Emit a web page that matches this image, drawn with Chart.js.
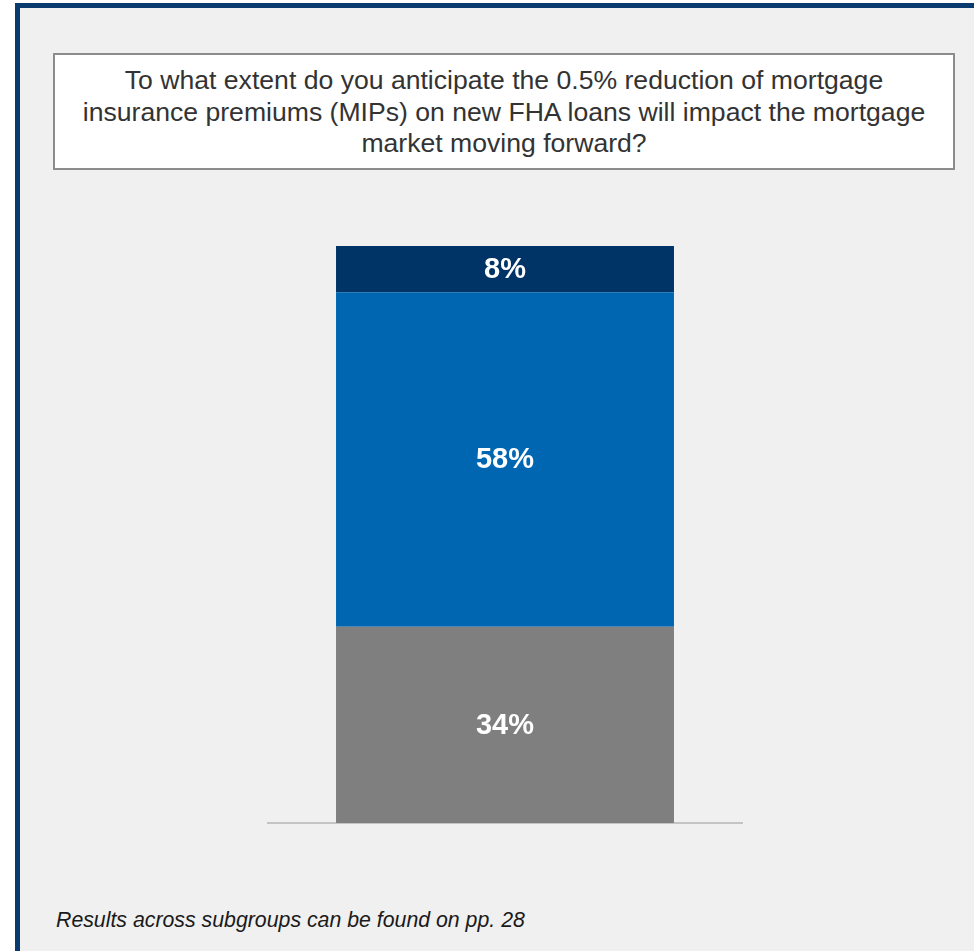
<!DOCTYPE html>
<html>
<head>
<meta charset="utf-8">
<script src="https://cdn.jsdelivr.net/npm/chart.js@4"></script>
<style>
    html, body {
        margin: 0;
        padding: 0;
        width: 974px;
        height: 951px;
        overflow: hidden;
        background: #ffffff;
        font-family: 'Liberation Sans', Arial, sans-serif;
    }

    .frame {
        position: absolute;
        left: 15px;
        top: 3px;
        width: 1000px;
        height: 1000px;
        border-left: 5px solid #093b6f;
        border-top: 5px solid #093b6f;
        background: #f0f0f0;
    }

    .question {
        position: absolute;
        left: 53px;
        top: 53px;
        width: 898px;
        border: 2px solid #8c8c8c;
        background: #ffffff;
        color: #333333;
        font-size: 26.6px;
        line-height: 31.5px;
        text-align: center;
        padding-top: 10px;
        height: 103px;
    }

    .chart-box {
        position: absolute;
        left: 267px;
        top: 246px;
        width: 476px;
        height: 580px;
    }

    .footnote {
        position: absolute;
        left: 56px;
        top: 908px;
        font-size: 21.3px;
        font-style: italic;
        color: #1a1a1a;
        white-space: nowrap;
    }
</style>
</head>
<body>
<div class="frame"></div>
<div class="question">To what extent do you anticipate the 0.5% reduction of mortgage<br>insurance premiums (MIPs) on new FHA loans will impact the mortgage<br>market moving forward?</div>
<div class="chart-box"><canvas id="mipChart"></canvas></div>
<div class="footnote">Results across subgroups can be found on pp. 28</div>

<script>
// one stacked column, bottom to top
const categories = [''];
const segmentNames = ['Segment 1', 'Segment 2', 'Segment 3'];
const segmentValues = [34, 58, 8];
const segmentColors = ['#7f7f7f', '#0066b2', '#003366'];

const segmentLabels = {
    id: 'segmentLabels',
    afterDatasetsDraw(chart) {
        const ctx = chart.ctx;
        ctx.save();
        ctx.fillStyle = '#ffffff';
        ctx.font = 'bold 29px "Liberation Sans", Arial, sans-serif';
        ctx.textAlign = 'center';
        ctx.textBaseline = 'middle';
        chart.data.datasets.forEach((ds, i) => {
            const meta = chart.getDatasetMeta(i);
            meta.data.forEach((bar, j) => {
                const p = bar.getProps(['x', 'y', 'base'], true);
                ctx.fillText(ds.data[j] + '%', p.x, (p.y + p.base) / 2 + 1);
            });
        });
        ctx.restore();
    },
};

new Chart(document.getElementById('mipChart').getContext('2d'), {
    type: 'bar',
    data: {
        labels: categories,
        datasets: segmentValues.map((v, i) => ({
            label: segmentNames[i],
            data: [v],
            backgroundColor: segmentColors[i],
            borderWidth: 0,
            categoryPercentage: 1,
            barPercentage: 0.71,
        })),
    },
    options: {
        responsive: true,
        maintainAspectRatio: false,
        animation: false,
        layout: { padding: { bottom: 3 } },
        plugins: {
            legend: { display: false },
            tooltip: { enabled: false },
        },
        scales: {
            x: {
                stacked: true,
                ticks: { display: false },
                grid: { display: false, drawTicks: false },
                border: { display: true, color: '#c4c4c4', width: 2 },
            },
            y: {
                stacked: true,
                display: false,
                min: 0,
                max: 100,
            },
        },
    },
    plugins: [segmentLabels],
});
</script>
</body>
</html>
